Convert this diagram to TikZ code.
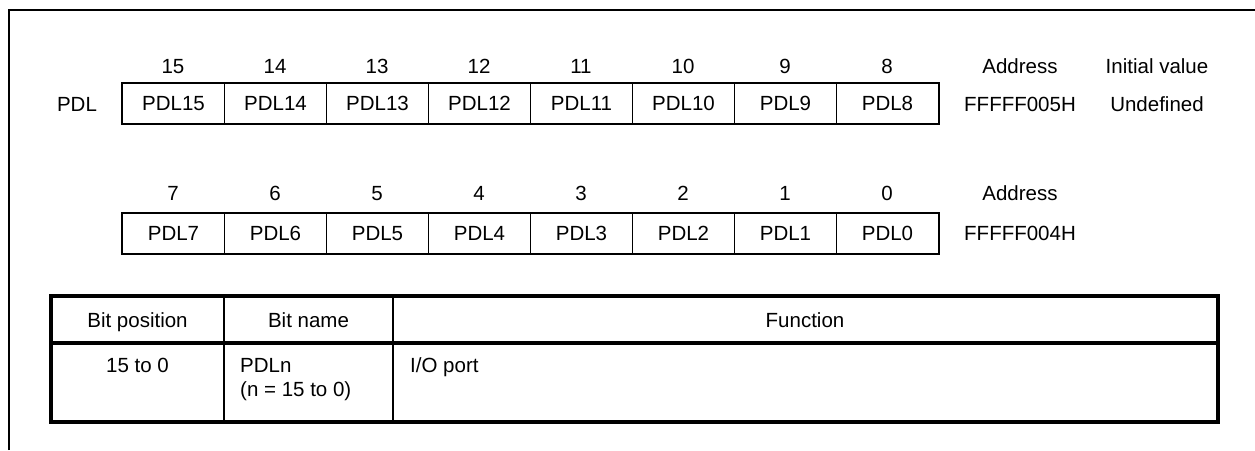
\documentclass[tikz,border=0pt]{standalone}
\usepackage{fontspec}
\setmainfont{Liberation Sans}
\begin{document}
\begin{tikzpicture}[x=1pt,y=-1pt,
  every node/.style={font=\fontsize{20.5}{24}\selectfont, inner sep=0pt, text height=14.7pt, text depth=0pt},
  cell/.style={draw, line width=1pt, minimum width=102pt, minimum height=40pt, anchor=north west},
  lbl/.style={anchor=center}]
\useasboundingbox (0,0) rectangle (1255,450);
% frame
\draw[line width=2.6pt] (9,450) -- (9,10) -- (1255,10);
% register row 1
\node[lbl] (pdl) at (77,104) {PDL};
\foreach \i [evaluate=\i as \b using int(15-\i)] in {0,...,7}{
  \node[cell] (c\b) at (122+102*\i,83) {};
  \node[lbl] at (c\b.center) {PDL\b};
  \node[lbl] (n\b) at (173+102*\i,66) {\b};
}
\draw[line width=2.4pt] (c15.north west) rectangle (c8.south east);
\node[lbl] (addr1) at (1020,66) {Address};
\node[lbl] (iv) at (1157,66) {Initial value};
\node[lbl] (a1) at (1020,104) {FFFFF005H};
\node[lbl] (u1) at (1157,104) {Undefined};
% register row 2
\foreach \i [evaluate=\i as \b using int(7-\i)] in {0,...,7}{
  \node[cell] (c\b) at (122+102*\i,213) {};
  \node[lbl] at (c\b.center) {PDL\b};
  \node[lbl] (n\b) at (173+102*\i,193) {\b};
}
\draw[line width=2.4pt] (c7.north west) rectangle (c0.south east);
\node[lbl] (addr2) at (1020,193) {Address};
\node[lbl] (a2) at (1020,233) {FFFFF004H};
% table
\coordinate (tl) at (51,296);
\coordinate (br) at (1218,422);
\draw[line width=3.8pt] (tl) rectangle (br);
\draw[line width=3.8pt] (51,343) -- (1218,343);
\draw[line width=2.6pt] (224,296) -- (224,422);
\draw[line width=2.6pt] (393,296) -- (393,422);
\node[lbl] (h1) at (137.5,320) {Bit position};
\node[lbl] (h2) at (308.5,320) {Bit name};
\node[lbl] (h3) at (805,320) {Function};
\node[lbl] (r1) at (137.5,365) {15 to 0};
\node[anchor=west] (r2) at (240,365) {PDLn};
\node[anchor=west] (r2b) at (240,389) {(n = 15 to 0)};
\node[anchor=west] (r3) at (410,365) {I/O port};
\end{tikzpicture}
\end{document}
